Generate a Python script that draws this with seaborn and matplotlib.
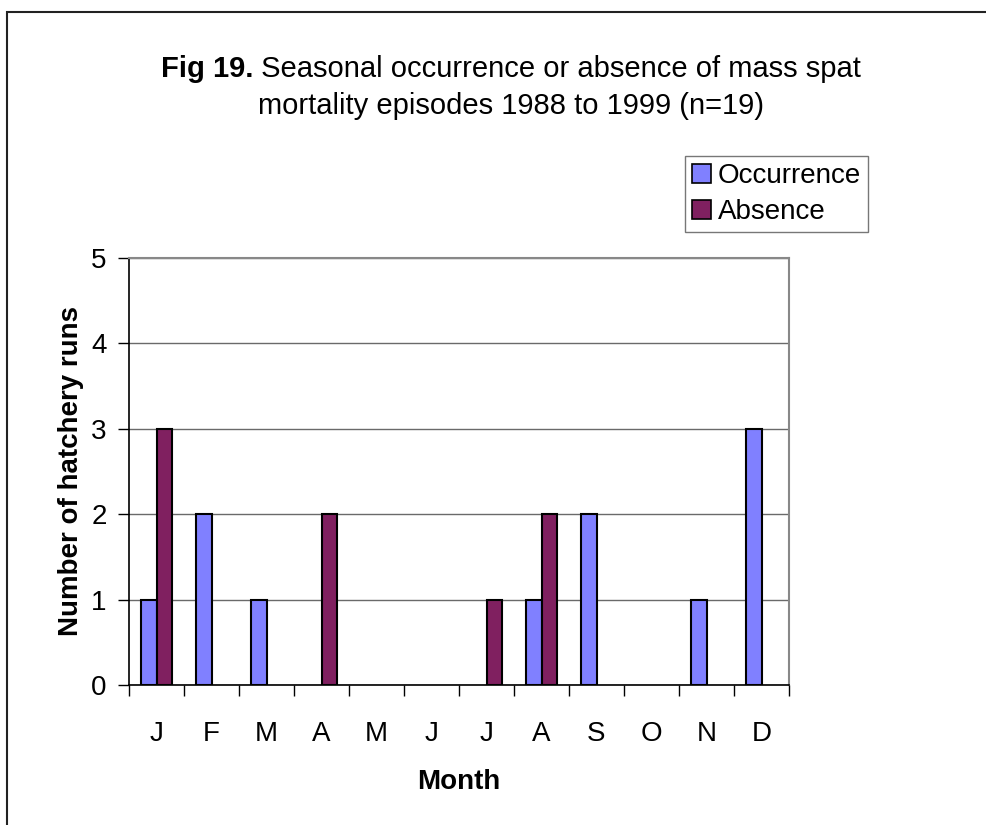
import matplotlib
matplotlib.use("Agg")
import matplotlib.pyplot as plt
import matplotlib.patches as mpatches
import seaborn as sns
import pandas as pd

months = ["J", "F", "M", "A", "M", "J", "J", "A", "S", "O", "N", "D"]
occurrence = [1, 2, 1, 0, 0, 0, 0, 1, 2, 0, 1, 3]
absence = [3, 0, 0, 2, 0, 0, 1, 2, 0, 0, 0, 0]
series_names = ["Occurrence", "Absence"]
series_colors = ["#8080FF", "#802060"]

title_bold = "Fig 19."
title_line1 = "Seasonal occurrence or absence of mass spat"
title_line2 = "mortality episodes 1988 to 1999 (n=19)"

sns.set_theme(style="white")
plt.rcParams["font.family"] = ["Liberation Sans", "DejaVu Sans"]
plt.rcParams.update({
    "text.color": "black",
    "axes.labelcolor": "black",
    "xtick.color": "black",
    "ytick.color": "black",
})

FS = 20
TITLE_FS = 21
W, H = 986, 825

month_idx = list(range(len(months)))
df = pd.DataFrame({
    "idx": month_idx * 2,
    "value": occurrence + absence,
    "series": [series_names[0]] * len(months) + [series_names[1]] * len(months),
})

fig = plt.figure(figsize=(W / 100, H / 100), dpi=100)
ax = fig.add_axes([129 / W, 1 - 685 / H, 660 / W, 427 / H])

sns.barplot(data=df, x="idx", y="value", hue="series", order=month_idx,
            hue_order=series_names, palette=series_colors, width=0.56,
            edgecolor="black", linewidth=1.5, saturation=1, ax=ax, legend=False)

# hide zero-height bars so only the axis line shows at the baseline
for p in ax.patches:
    if p.get_height() == 0:
        p.set_visible(False)

ax.set_xlim(-0.5, len(months) - 0.5)
ax.set_ylim(0, 5)
ax.set_yticks(range(6))
ax.set_yticklabels([str(v) for v in range(6)], fontsize=FS)
ax.yaxis.grid(True, color="#6a6a6a", linewidth=1.0)
ax.set_axisbelow(True)

# category boundaries as ticks, month letters centred between them
ax.set_xticks([i - 0.5 for i in range(len(months) + 1)])
ax.set_xticklabels([])
ax.set_xticks(month_idx, minor=True)
ax.set_xticklabels(months, minor=True, fontsize=FS)
ax.tick_params(axis="x", which="major", direction="out", length=8, width=1, color="black", bottom=True)
ax.tick_params(axis="x", which="minor", length=0, pad=26)
ax.tick_params(axis="y", direction="out", length=8, width=1, color="black", left=True, pad=8)

for side in ["left", "bottom"]:
    ax.spines[side].set_color("black")
    ax.spines[side].set_linewidth(1.2)
for side in ["top", "right"]:
    ax.spines[side].set_color("#888888")
    ax.spines[side].set_linewidth(1.5)

ax.set_xlabel("Month", fontsize=FS, fontweight="bold", labelpad=16)
ax.set_ylabel("Number of hatchery runs", fontsize=FS, fontweight="bold", labelpad=5)

# two-line title; first line mixes a bold figure number with normal text
cx = 511 / W
t_bold = fig.text(0, 1 - 77 / H, title_bold, fontsize=TITLE_FS, fontweight="bold", ha="left", va="baseline")
t_rest = fig.text(0, 1 - 77 / H, " " + title_line1, fontsize=TITLE_FS, ha="left", va="baseline")
fig.text(cx, 1 - 114 / H, title_line2, fontsize=TITLE_FS, ha="center", va="baseline")
renderer = fig.canvas.get_renderer()
wb = t_bold.get_window_extent(renderer).width / W
wr = t_rest.get_window_extent(renderer).width / W
x0 = cx - (wb + wr) / 2
t_bold.set_x(x0)
t_rest.set_x(x0 + wb)

handles = [mpatches.Patch(facecolor=c, edgecolor="black", linewidth=1.2, label=n)
           for c, n in zip(series_colors, series_names)]
leg = fig.legend(handles=handles, loc="lower right", bbox_to_anchor=(868 / W, 1 - 232 / H),
                 fontsize=FS, frameon=True, fancybox=False, handlelength=0.68, handleheight=0.68,
                 handletextpad=0.25, borderpad=0.25, labelspacing=0.35, borderaxespad=0)
leg.get_frame().set_edgecolor("#555555")
leg.get_frame().set_linewidth(1.0)

# outer chart border
fig.patches.append(mpatches.Rectangle((7 / W, -0.1), 1.2, 1 - 12 / H + 0.1,
                                      transform=fig.transFigure, fill=False,
                                      edgecolor="#222222", linewidth=1.5))

fig.savefig("out.png", dpi=100)
